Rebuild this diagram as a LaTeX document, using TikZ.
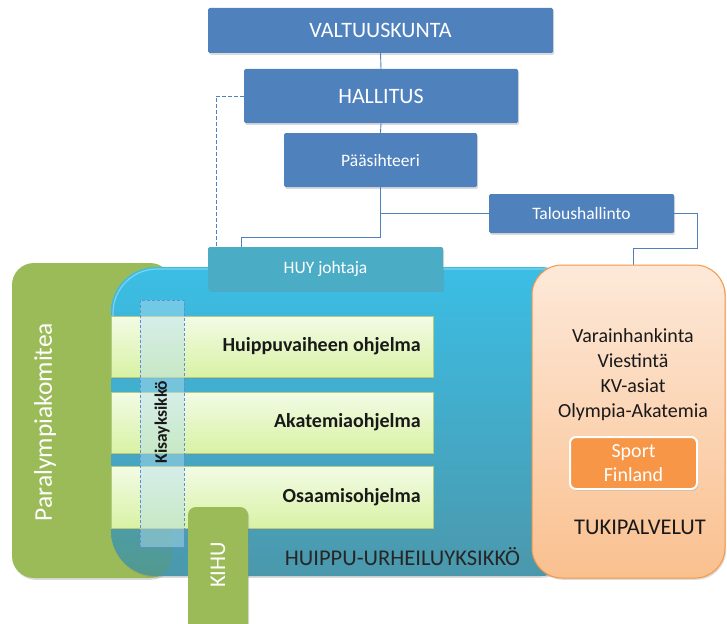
\documentclass[tikz,border=0pt]{standalone}
\usepackage{fontspec}
\setmainfont{Carlito}
\usetikzlibrary{shadows,fadings,backgrounds}

\definecolor{accblue}{HTML}{4F81BD}
\definecolor{aqua}{HTML}{4BACC6}
\definecolor{olive}{HTML}{9BBB59}
\definecolor{orng}{HTML}{F79646}
\definecolor{skytop}{HTML}{3BBEE5}
\definecolor{skymid}{HTML}{40AACB}
\definecolor{skybot}{HTML}{4B98AC}
\definecolor{progtop}{HTML}{F3FBE6}
\definecolor{progbot}{HTML}{D8F2A4}
\definecolor{peachtop}{HTML}{FDE9D9}
\definecolor{peachbot}{HTML}{FAC08F}
\definecolor{dashblue}{HTML}{5B8FDB}
\definecolor{kisafill}{HTML}{B4DEEE}
\definecolor{deepgreen}{HTML}{5E9A6A}

\pgfdeclarelayer{paper}
\pgfsetlayers{paper,background,main}

\tikzfading[name=lowfade, top color=transparent!100, bottom color=transparent!55]

\newcommand\fsz[2]{\fontsize{#1pt}{#2pt}\selectfont}

\tikzset{
  softshadow/.style={drop shadow={opacity=0.28, shadow xshift=1.2pt, shadow yshift=-1.8pt}},
  darkbox/.style={softshadow, fill=accblue, text=white, rounded corners=1.5pt, inner sep=0pt},
  conn/.style={draw=accblue, line width=0.9pt},
  linkdash/.style={conn, dash pattern=on 3.5pt off 2.5pt},
  progbox/.style={softshadow, draw=olive!75, line width=0.6pt, top color=progtop,
    bottom color=progbot, minimum width=322pt, inner sep=0pt},
  progtext/.style={anchor=east, font=\fsz{20}{24}\bfseries, text=black!90},
}

\begin{document}
\begin{tikzpicture}[x=1pt,y=-1pt]
\useasboundingbox (0,0) rectangle (727,623);
\begin{pgfonlayer}{paper}
  \fill[white] (0,0) rectangle (727,623);
\end{pgfonlayer}

% governance chain
\node[darkbox, minimum width=345pt, minimum height=45pt, font=\fsz{22}{26}] (valt) at (380.5,30.5) {VALTUUSKUNTA};
\node[darkbox, minimum width=274pt, minimum height=54pt, font=\fsz{22}{26}] (hall) at (381,96) {HALLITUS};
\node[darkbox, minimum width=193pt, minimum height=54pt, font=\fsz{17.5}{21}] (paas) at (380.5,160) {Pääsihteeri};
\node[darkbox, minimum width=185pt, minimum height=39pt, font=\fsz{17.5}{21}] (talo) at (581.5,213.5) {Taloushallinto};

% Paralympiakomitea
\node[softshadow, fill=olive, rounded corners=22pt, minimum width=160pt, minimum height=315pt, inner sep=0pt] (para) at (92,420.5) {};
\node[rotate=90, text=white, font=\fsz{25.5}{30}] (paraLbl) at (45,422) {Paralympiakomitea};

% HUIPPU-URHEILUYKSIKKO
\node[softshadow, top color=skytop, middle color=skymid, bottom color=skybot, rounded corners=45pt,
  minimum width=474pt, minimum height=309pt, inner sep=0pt] (huu) at (348,421.5) {};
\begin{scope}
  \clip[rounded corners=45pt] (111,267) rectangle (585,576);
  \fill[deepgreen, path fading=lowfade, rounded corners=22pt] (12,490) rectangle (172,578);
\end{scope}
\draw[white, opacity=0.35, line width=1.2pt, rounded corners=44pt] (113,320) -- (113,269) -- (570,269);

\node[softshadow, fill=aqua, text=white, rounded corners=1.5pt, inner sep=0pt,
  minimum width=235pt, minimum height=43pt, font=\fsz{17.5}{21}] (huy) at (325.5,268.5) {HUY johtaja};

% programmes
\node[progbox, minimum height=61pt] (p1) at (272,346.5) {};
\node[progbox, minimum height=61pt] (p2) at (272,422.5) {};
\node[progbox, minimum height=62pt] (p3) at (272,497) {};
\node[progtext] (p1t) at ([xshift=-9pt]p1.east) {Huippuvaiheen ohjelma};
\node[progtext] (p2t) at ([xshift=-9pt]p2.east) {Akatemiaohjelma};
\node[progtext] (p3t) at ([xshift=-9pt]p3.east) {Osaamisohjelma};

% Kisayksikko
\node[draw=dashblue, line width=0.8pt, dash pattern=on 3pt off 2pt, fill=kisafill, fill opacity=0.45,
  minimum width=44pt, minimum height=247pt, inner sep=0pt] (kisa) at (162,423.5) {};
\node[rotate=90, font=\fsz{17.5}{21}\bfseries, text=black!90] (kisaLbl) at (162,422) {Kisayksikkö};

% KIHU
\node[softshadow, fill=olive, rounded corners=8pt, minimum width=60pt, minimum height=130pt, inner sep=0pt] (kihu) at (218,572) {};
\node[rotate=90, text=white, font=\fsz{22.5}{27}] (kihuLbl) at (218,565) {KIHU};

\node[font=\fsz{22.5}{27}, text=black!85] (huuLbl) at (402.5,557) {HUIPPU-URHEILUYKSIKKÖ};

% TUKIPALVELUT
\node[softshadow, draw=orng, line width=1pt, top color=peachtop, bottom color=peachbot, rounded corners=30pt,
  minimum width=193pt, minimum height=313pt, inner sep=0pt] (tuki) at (628.5,421.5) {};
\node[align=center, font=\fsz{20}{25}, text=black!90] (tukiList) at (633,374.5) {Varainhankinta\\Viestintä\\KV-asiat\\Olympia-Akatemia};
\node[softshadow, draw=white, line width=2pt, fill=orng, rounded corners=6pt, minimum width=127pt, minimum height=52pt,
  inner sep=0pt, text=white, align=center, font=\fsz{20}{24}] (sport) at (633.5,463) {Sport\\Finland};
\node[font=\fsz{22.5}{27}, text=black!90] (tukiLbl) at (640,527) {TUKIPALVELUT};

% connectors
\coordinate (bend) at (241,237);
\coordinate (dashEnd) at (216,247);
\coordinate (tk1) at (697,248);
\coordinate (tukiTop) at (633,266);
\begin{scope}[on background layer]
  \draw[conn] (valt.south) -- (hall.north);
  \draw[conn] (hall.south) -- (paas.north);
  \draw[conn] (paas.south) |- (talo.west);
  \draw[conn] (paas.south) |- (bend) -- (bend |- huy.north);
  \draw[linkdash] (hall.west) -| (dashEnd);
  \draw[conn] (talo.east) -| (tk1) -| (tukiTop);
\end{scope}
\end{tikzpicture}
\end{document}
